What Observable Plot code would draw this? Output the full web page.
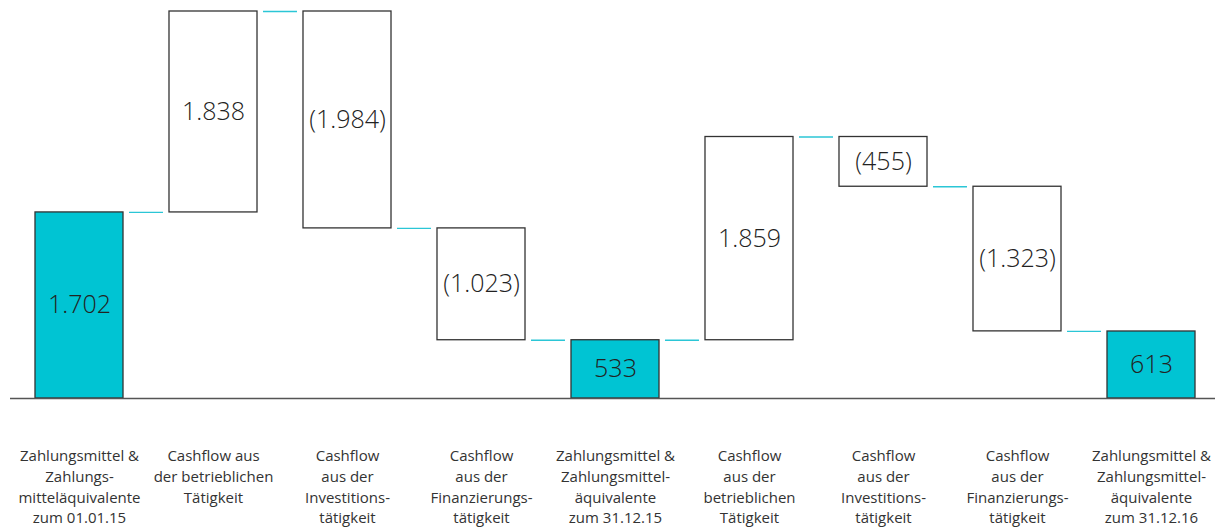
<!DOCTYPE html>
<html>
<head>
<meta charset="utf-8">
<script src="https://cdn.jsdelivr.net/npm/d3@7"></script>
<script src="https://cdn.jsdelivr.net/npm/@observablehq/plot@0.6"></script>
<style>
  html, body { margin: 0; padding: 0; background: #fff; }
  #chart { width: 1215px; height: 531px; }
</style>
</head>
<body>
<div id="chart"></div>
<script>
const categories = [
  "Zahlungsmittel &\nZahlungs-\nmitteläquivalente\nzum 01.01.15",
  "Cashflow aus\nder betrieblichen\nTätigkeit",
  "Cashflow\naus der\nInvestitions-\ntätigkeit",
  "Cashflow\naus der\nFinanzierungs-\ntätigkeit",
  "Zahlungsmittel &\nZahlungsmittel-\näquivalente\nzum 31.12.15",
  "Cashflow\naus der\nbetrieblichen\nTätigkeit",
  "Cashflow\naus der\nInvestitions-\ntätigkeit",
  "Cashflow\naus der\nFinanzierungs-\ntätigkeit",
  "Zahlungsmittel &\nZahlungsmittel-\näquivalente\nzum 31.12.16"
];
const values = [1702, 1838, -1984, -1023, 533, 1859, -455, -1323, 613];
const kinds = ["total", "delta", "delta", "delta", "total", "delta", "delta", "delta", "total"];

const halfBar = 0.3284;   // half bar width in category units
const gap = 0.0448;       // gap between bar and connector

let running = 0;
const bars = values.map((v, i) => {
  let y1, y2;
  if (kinds[i] === "total") { y1 = 0; y2 = v; running = v; }
  else { y1 = running; y2 = running + v; running = running + v; }
  const label = v < 0 ? "(" + d3.format(",")(-v).replace(/,/g, ".") + ")" : d3.format(",")(v).replace(/,/g, ".");
  return { i, x1: i - halfBar, x2: i + halfBar, y1, y2, end: running, kind: kinds[i], label };
});
const connectors = bars.slice(0, -1).map(b => ({ x1: b.i + halfBar + gap, x2: b.i + 1 - halfBar - gap, y: b.end }));

const chart = Plot.plot({
  width: 1215,
  height: 531,
  marginTop: 11,
  marginBottom: 133,
  marginLeft: 10,
  marginRight: 0,
  style: { fontFamily: "'Open Sans', sans-serif", color: "#333", background: "#fff" },
  x: { domain: [0, 8], range: [79, 1151] },
  y: { domain: [0, 3540], axis: null },
  marks: [
    Plot.rect(bars, {
      x1: "x1", x2: "x2", y1: "y1", y2: "y2",
      fill: d => d.kind === "total" ? "#00C4D3" : "#fff",
      stroke: "#333", strokeWidth: 1.3
    }),
    Plot.ruleY(connectors, { x1: "x1", x2: "x2", y: "y", stroke: "#2BC6D6", strokeWidth: 1.3 }),
    Plot.ruleY([0], { stroke: "#555", strokeWidth: 1.6 }),
    Plot.text(bars, {
      x: "i", y: d => (d.y1 + d.y2) / 2, text: "label",
      fontSize: 25, fill: "#222", fontWeight: 300
    }),
    Plot.axisX({
      ticks: d3.range(categories.length),
      tickFormat: i => categories[i],
      tickSize: 0, tickPadding: 48,
      fontSize: 15, lineHeight: 1.38, fill: "#333", label: null
    })
  ]
});
document.getElementById("chart").appendChild(chart);
</script>
</body>
</html>
